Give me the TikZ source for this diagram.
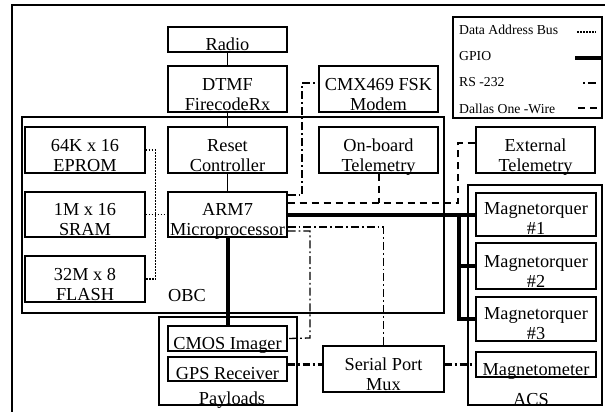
\documentclass[tikz,border=0pt]{standalone}
\usepackage{fontspec}
\setmainfont{Liberation Serif}
\usetikzlibrary{fit, positioning}

\begin{document}
\begin{tikzpicture}[
  x=1pt, y=-1pt, % 1 unit = 1 px of the layout, y grows downward
  blk/.style={draw, line width=1.3pt, inner sep=0pt},
  blktxt/.style={anchor=south, inner sep=0pt, text depth=0pt, align=center, font=\fontsize{18.3}{20}\selectfont},
  grplabel/.style={anchor=base, inner sep=0pt, font=\fontsize{18.3}{20}\selectfont},
  legtxt/.style={anchor=base west, inner sep=0pt, font=\fontsize{13.7}{15}\selectfont},
  link/.style={line width=1.1pt},
  dab/.style={line width=1.4pt, dash pattern=on 1.5pt off 1.5pt},
  gpio/.style={line width=4pt},
  rsline/.style={line width=1.3pt, dash pattern=on 8pt off 3pt on 1.8pt off 3pt},
  rsbold/.style={line width=2.4pt, dash pattern=on 7pt off 3pt on 2pt off 3pt},
  owire/.style={line width=2pt, dash pattern=on 7pt off 5pt}
]
  \useasboundingbox (0,0) rectangle (605,412);

  % outer frame, open at right and bottom
  \draw[line width=1.4pt] (12,412) |- (605,5);

  % box macro: name, corner, corner, text (text sits on the bottom edge)
  \newcommand{\modbox}[4]{%
    \node[blk, fit={#2 #3}] (#1) {};
    \node[blktxt] (#1-t) at ([yshift=2pt]#1.south) {#4};
  }

  % groups
  \node[blk, fit={(22,117) (444,313)}] (obc) {};
  \node[grplabel, anchor=base west] (obc-t) at (168,301) {OBC};
  \node[blk, fit={(159,317) (297,405)}] (payloads) {};
  \node[grplabel] (payloads-t) at (232,404) {Payloads};
  \node[blk, fit={(468,185) (602,405)}] (acs) {};
  \node[grplabel] (acs-t) at (531,405) {ACS};

  % modules
  \modbox{radio}{(168,27)}{(287,52)}{Radio}
  \modbox{dtmf}{(168,66)}{(287,112)}{DTMF\\FirecodeRx}
  \modbox{modem}{(319,66)}{(438,112)}{CMX469 FSK\\Modem}
  \modbox{eprom}{(25,127)}{(145,173)}{64K x 16\\EPROM}
  \modbox{reset}{(168,127)}{(287,173)}{Reset\\Controller}
  \modbox{onboard}{(319,127)}{(438,173)}{On-board\\Telemetry}
  \modbox{exttel}{(476,127)}{(595,173)}{External\\Telemetry}
  \modbox{sram}{(25,192)}{(145,237)}{1M x 16\\SRAM}
  \modbox{arm}{(168,192)}{(287,237)}{ARM7\\Microprocessor}
  \modbox{flash}{(25,256)}{(145,302)}{32M x 8\\FLASH}
  \modbox{mt1}{(476,193)}{(596,236)}{Magnetorquer\\\#1}
  \modbox{mt2}{(476,243)}{(596,289)}{Magnetorquer\\\#2}
  \modbox{mt3}{(476,297)}{(596,341)}{Magnetorquer\\\#3}
  \modbox{magm}{(476,352)}{(596,377)}{Magnetometer}
  \modbox{cmos}{(168,326)}{(287,351)}{CMOS Imager}
  \modbox{gps}{(168,357)}{(287,381)}{GPS Receiver}
  \modbox{mux}{(323,346)}{(444,392)}{Serial Port\\Mux}

  % legend
  \node[blk, fit={(453,17) (602,118)}] (legend) {};
  \node[legtxt] (leg-dab) at (459,35) {Data Address Bus};
  \node[legtxt] (leg-gpio) at (459,61) {GPIO};
  \node[legtxt] (leg-rs) at (459,87) {RS -232};
  \node[legtxt] (leg-ow) at (459,113) {Dallas One -Wire};
  \draw[dab] (577,32) -- (596,32);
  \draw[gpio] (575,58) -- (602,58);
  \draw[rsline, dash phase=11pt] (583,83) -- (597,83);
  \draw[owire] (578,108) -- (602,108);

  % plain links
  \draw[link] (radio) -- (dtmf);
  \draw[link] (dtmf) -- (reset);
  \draw[link] (reset) -- (arm);

  % data / address bus
  \draw[dab] (eprom.east) -- ++(10,0) |- (flash.east);
  \draw[dab] (sram) -- (arm);

  % GPIO
  \coordinate (bus) at (459,0);
  \draw[gpio] (arm) -- (mt1);
  \draw[gpio] (arm.east -| bus) |- (mt3.west);
  \draw[gpio] (bus |- mt2.west) -- (mt2.west);
  \draw[gpio] (arm) -- (cmos);

  % RS-232
  \draw[rsline] (arm.east |- 0,195) -| (302,83) -- (modem.west |- 0,83);
  \draw[rsline] (arm.east |- 0,227) -| (mux);
  \draw[rsline] (arm.east |- 0,231) -| (310,338) -- (cmos.east);
  \draw[rsbold] (gps.east |- magm.west) -- (mux.west |- magm.west);
  \draw[rsbold] (mux.east |- magm.west) -- (magm.west);

  % Dallas one-wire
  \draw[owire] (arm.east |- 0,203) -| (458,143) -- (exttel.west |- 0,143);
  \draw[owire] (onboard) -- (onboard.south |- 0,203);
\end{tikzpicture}
\end{document}
